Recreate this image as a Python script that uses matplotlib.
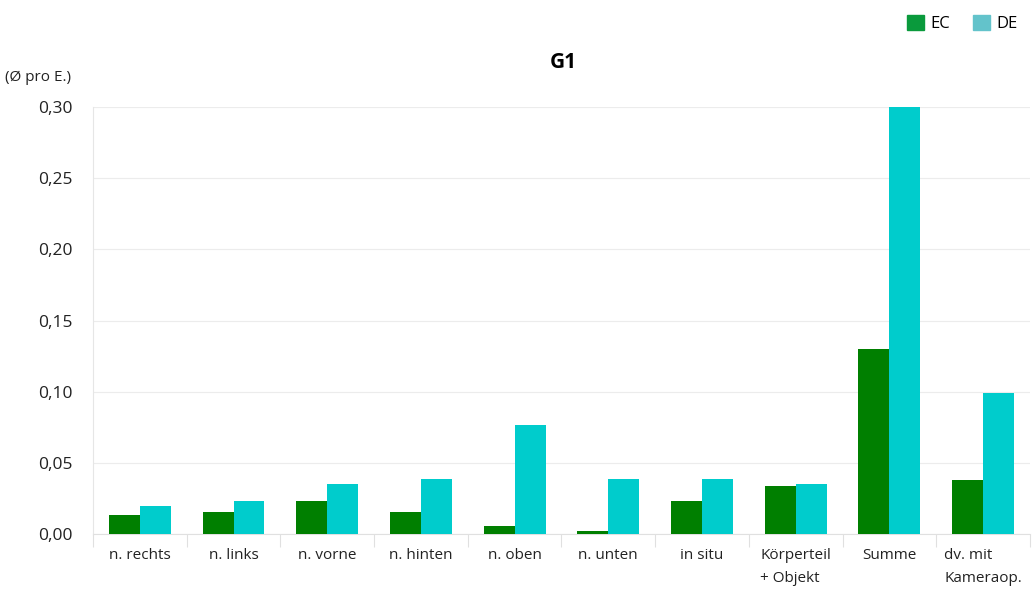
import numpy as np
import matplotlib
matplotlib.use("Agg")
import matplotlib.pyplot as plt
from matplotlib.patches import Patch
from matplotlib.ticker import FuncFormatter, FixedLocator

plt.rcParams['font.family'] = ['Open Sans', 'DejaVu Sans']

categories = ['n. rechts', 'n. links', 'n. vorne', 'n. hinten', 'n. oben',
              'n. unten', 'in situ', 'Körperteil\n+ Objekt', 'Summe',
              'dv. mit\nKameraop.']
ec_values = [0.0136, 0.0153, 0.0234, 0.0153, 0.0058,
             0.0018, 0.0232, 0.0340, 0.1300, 0.0380]
de_values = [0.0194, 0.0234, 0.0351, 0.0389, 0.0768,
             0.0389, 0.0389, 0.0351, 0.3000, 0.0989]
y_ticks = [0.0, 0.05, 0.10, 0.15, 0.20, 0.25, 0.30]

ec_color = '#007f00'
de_color = '#00cccc'

fig = plt.figure(figsize=(10.33, 5.99), dpi=100)
ax = fig.add_axes([0.09, 0.1085, 0.907, 0.7125])

x = np.arange(len(categories))
w = 0.33
ax.bar(x - w / 2, ec_values, width=w, color=ec_color, zorder=3)
ax.bar(x + w / 2, de_values, width=w, color=de_color, zorder=3)

ax.set_xlim(-0.5, len(categories) - 0.5)
ax.set_ylim(0, 0.30)
ax.set_yticks(y_ticks)
ax.yaxis.set_major_formatter(FuncFormatter(lambda v, p: f'{v:.2f}'.replace('.', ',')))
ax.grid(axis='y', color='#ececec', linewidth=0.8, zorder=0)

ax.set_xticks(x)
ax.set_xticklabels(categories, va='top', ha='center', multialignment='left',
                   linespacing=1.75)
ax.xaxis.set_minor_locator(FixedLocator(np.arange(-0.5, len(categories), 1.0)))
ax.tick_params(axis='x', which='major', length=0, pad=10, labelsize=11, colors='#222222')
ax.tick_params(axis='x', which='minor', length=9, color='#e0e0e0', width=0.8)
ax.tick_params(axis='y', length=0, pad=15, labelsize=12.5, colors='#222222')

for side in ['top', 'right']:
    ax.spines[side].set_visible(False)
ax.spines['left'].set_color('#e6e6e6')
ax.spines['bottom'].set_color('#e0e0e0')

fig.text(0.545, 0.895, 'G1', ha='center', va='center', fontsize=15, fontweight='bold')
fig.text(0.005, 0.87, '(Ø pro E.)', ha='left', va='center', fontsize=11, color='#222222')

handles = [Patch(color='#0a9a3c'), Patch(color='#63c3cb')]
fig.legend(handles, ['EC', 'DE'], loc='upper right', bbox_to_anchor=(1.0, 1.0),
           ncol=2, frameon=False, fontsize=12, handlelength=1.0, handleheight=1.0,
           handletextpad=0.4, columnspacing=1.4)

fig.savefig('out.png', dpi=100)
